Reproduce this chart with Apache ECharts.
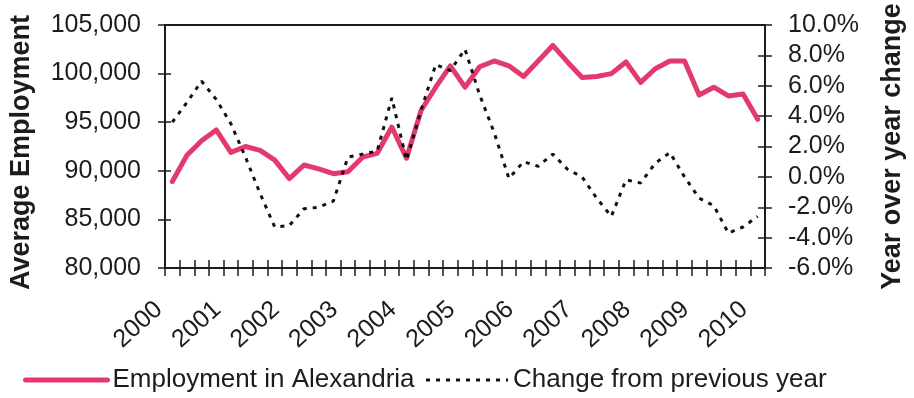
<!DOCTYPE html>
<html>
<head>
<meta charset="utf-8">
<title>Employment in Alexandria</title>
<script src="https://cdn.jsdelivr.net/npm/echarts@6/dist/echarts.min.js"></script>
<style>
  html, body { margin: 0; padding: 0; background: #fff; }
  #chart { width: 914px; height: 398px; }
</style>
</head>
<body>
<div id="chart"></div>
<script>
// Years shown on the horizontal axis (quarterly points, 2000 Q1 through 2010 Q1)
const years = ['2000', '2001', '2002', '2003', '2004', '2005', '2006', '2007', '2008', '2009', '2010'];
const quarters = ['Q1', 'Q2', 'Q3', 'Q4'];

// Average employment in Alexandria, one value per quarter
const employment = [
  88900, 91600, 93100, 94200, 91900, 92500, 92100, 91100,
  89200, 90600, 90200, 89700, 89900, 91400, 91800, 94500,
  91300, 96200, 98600, 100800, 98600, 100700, 101300, 100800,
  99700, 101300, 102900, 101200, 99600, 99700, 100000, 101200,
  99100, 100500, 101300, 101300, 97800, 98600, 97700, 97900,
  95300
];

// Year-over-year change, in percent
const yoyChange = [
  3.6, 4.9, 6.3, 5.1, 3.5, 1.3, -1.1, -3.3,
  -3.2, -2.1, -2.0, -1.6, 1.3, 1.5, 1.7, 5.2,
  1.1, 4.4, 7.4, 7.0, 8.4, 5.4, 2.9, -0.1,
  1.0, 0.7, 1.5, 0.5, 0.0, -1.4, -2.6, -0.2,
  -0.4, 0.9, 1.6, 0.0, -1.4, -1.9, -3.7, -3.3,
  -2.6
];

// Axis ranges
const leftAxisRange = { min: 80000, max: 105000, step: 5000 };
const rightAxisRange = { min: -6, max: 10, step: 2 };

const categories = [];
years.forEach(function (y, i) {
  const qs = i === years.length - 1 ? quarters.slice(0, 1) : quarters;
  qs.forEach(function (q) { categories.push(y + ' ' + q); });
});

const ink = '#1c1c1c';
const pink = '#e23a6c';
const fontFamily = '"Liberation Sans", Arial, Helvetica, sans-serif';
const axisLineStyle = { color: ink, width: 2 };
const tickStyle = { color: ink, width: 1.5 };

const chart = echarts.init(document.getElementById('chart'), null, { renderer: 'canvas' });

chart.setOption({
  animation: false,
  backgroundColor: '#ffffff',
  textStyle: { fontFamily: fontFamily, color: ink },
  grid: {
    left: 164, right: 138, top: 25, bottom: 130,
    show: true, borderColor: ink, borderWidth: 2, backgroundColor: 'transparent'
  },
  legend: {
    left: 18, bottom: 0,
    itemWidth: 82, itemHeight: 14, itemGap: 10,
    itemStyle: { opacity: 0 },
    textStyle: { fontSize: 26, color: ink, fontFamily: fontFamily },
    data: [
      { name: 'Employment in Alexandria', lineStyle: { width: 5, color: pink } },
      { name: 'Change from previous year', lineStyle: { width: 3, color: '#111111', type: [4, 6] } }
    ]
  },
  xAxis: [
    {
      type: 'category', data: categories, boundaryGap: true, position: 'bottom',
      axisLine: { show: true, onZero: false, lineStyle: axisLineStyle },
      axisTick: { show: true, interval: 0, length: 8, lineStyle: tickStyle },
      axisLabel: {
        interval: 3, rotate: 42, margin: 26, fontSize: 25, color: ink,
        padding: [0, 18, 0, 0],
        formatter: function (v) { return v.split(' ')[0]; }
      },
      splitLine: { show: false }
    },
    {
      type: 'category', data: categories, boundaryGap: true, position: 'bottom',
      axisLine: { show: false, onZero: false },
      axisTick: { show: true, inside: true, interval: 0, length: 8, lineStyle: tickStyle },
      axisLabel: { show: false },
      splitLine: { show: false }
    }
  ],
  yAxis: [
    {
      type: 'value', position: 'left',
      min: leftAxisRange.min, max: leftAxisRange.max, interval: leftAxisRange.step,
      name: 'Average Employment', nameLocation: 'middle', nameGap: 130, nameRotate: 90,
      nameTextStyle: { fontSize: 27, fontWeight: 'bold', color: ink, padding: [0, 12, 0, 0] },
      axisLine: { show: true, lineStyle: axisLineStyle },
      axisTick: { show: true, length: 7, lineStyle: tickStyle },
      axisLabel: {
        margin: 24, fontSize: 25, color: ink,
        formatter: function (v) { return v.toLocaleString('en-US'); }
      },
      splitLine: { show: false }
    },
    {
      type: 'value', position: 'right',
      min: rightAxisRange.min, max: rightAxisRange.max, interval: rightAxisRange.step,
      name: 'Year over year change', nameLocation: 'middle', nameGap: 114, nameRotate: 90,
      nameTextStyle: { fontSize: 27, fontWeight: 'bold', color: ink },
      axisLine: { show: true, lineStyle: axisLineStyle },
      axisTick: { show: true, length: 7, lineStyle: tickStyle },
      axisLabel: {
        margin: 23, fontSize: 25, color: ink,
        formatter: function (v) { return v.toFixed(1) + '%'; }
      },
      splitLine: { show: false }
    },
    {
      type: 'value', position: 'left',
      min: leftAxisRange.min, max: leftAxisRange.max, interval: leftAxisRange.step,
      axisLine: { show: false },
      axisTick: { show: true, inside: true, length: 6, lineStyle: tickStyle },
      axisLabel: { show: false },
      splitLine: { show: false }
    },
    {
      type: 'value', position: 'right',
      min: rightAxisRange.min, max: rightAxisRange.max, interval: rightAxisRange.step,
      axisLine: { show: false },
      axisTick: { show: true, inside: true, length: 7, lineStyle: tickStyle },
      axisLabel: { show: false },
      splitLine: { show: false }
    }
  ],
  series: [
    {
      name: 'Employment in Alexandria', type: 'line',
      xAxisIndex: 0, yAxisIndex: 0,
      data: employment, symbol: 'none', smooth: false,
      lineStyle: { color: pink, width: 5, cap: 'round', join: 'round' },
      itemStyle: { color: pink },
      z: 2
    },
    {
      name: 'Change from previous year', type: 'line',
      xAxisIndex: 0, yAxisIndex: 1,
      data: yoyChange, symbol: 'none', smooth: false,
      lineStyle: { color: '#111111', width: 3, type: [4, 6] },
      itemStyle: { color: '#111111' },
      z: 3
    }
  ]
});
</script>
</body>
</html>
